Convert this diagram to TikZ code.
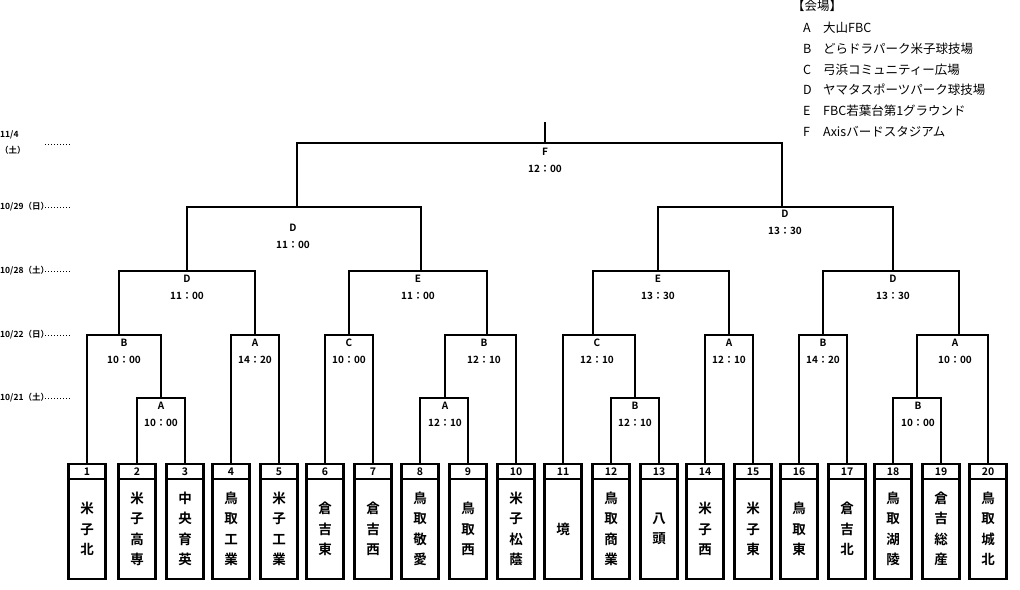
\documentclass[tikz,border=0pt]{standalone}
\usepackage{fontspec}
\setmainfont{Noto Sans CJK JP}[BoldFont={Noto Sans CJK JP Bold}]

\tikzset{
    bracket/.style={line width=2.4pt},
    numbox/.style={draw,line width=2.4pt,minimum width=37pt,minimum height=15pt,inner sep=0pt,font=\fontsize{10.5}{12}\selectfont\bfseries},
    namebox/.style={draw,line width=2.4pt,minimum width=37pt,minimum height=100pt,inner sep=0pt,align=center,font=\fontsize{13.5}{20.5}\selectfont\bfseries},
    matchlabel/.style={align=center,inner sep=0pt,font=\fontsize{10}{17}\selectfont\bfseries},
    datelabel/.style={anchor=west,inner sep=0pt,font=\fontsize{8.5}{9}\selectfont\bfseries},
    dateline/.style={dotted,line width=1pt},
    venue/.style={anchor=west,inner sep=0pt,font=\fontsize{12.5}{14}\selectfont},
}

\begin{document}
\begin{tikzpicture}[x=1pt,y=-1pt]
        \useasboundingbox (0,0) rectangle (1020,589);
        % teams
        \foreach \n/\x/\name in {1/87/{米\\子\\北}, 2/137/{米\\子\\高\\専}, 3/185/{中\\央\\育\\英},
            4/231/{鳥\\取\\工\\業}, 5/279/{米\\子\\工\\業}, 6/325/{倉\\吉\\東}, 7/373/{倉\\吉\\西},
            8/420/{鳥\\取\\敬\\愛}, 9/468/{鳥\\取\\西}, 10/516/{米\\子\\松\\蔭}, 11/563/{境},
            12/611/{鳥\\取\\商\\業}, 13/659/{八\\頭}, 14/705/{米\\子\\西}, 15/753/{米\\子\\東},
            16/799/{鳥\\取\\東}, 17/847/{倉\\吉\\北}, 18/893/{鳥\\取\\湖\\陵}, 19/941/{倉\\吉\\総\\産},
            20/988/{鳥\\取\\城\\北}}{
            \node[numbox] (n\n) at (\x,471.5) {\n};
            \node[namebox] (t\n) at (\x,529) {\name};
        }
        % 10/21
        \coordinate (m1) at (161,398);
        \coordinate (m4) at (445,398);
        \coordinate (m7) at (635,398);
        \coordinate (m10) at (917,398);
        \draw[bracket] (n2.north) |- (m1) -| (n3.north);
        \draw[bracket] (n8.north) |- (m4) -| (n9.north);
        \draw[bracket] (n12.north) |- (m7) -| (n13.north);
        \draw[bracket] (n18.north) |- (m10) -| (n19.north);
        % 10/22
        \coordinate (m2) at (119,335);
        \coordinate (m3) at (255,335);
        \coordinate (m5) at (349,335);
        \coordinate (m6) at (487,335);
        \coordinate (m8) at (593,335);
        \coordinate (m9) at (729,335);
        \coordinate (m11) at (823,335);
        \coordinate (m12) at (959,335);
        \draw[bracket] (n1.north) |- (m2) -| (m1);
        \draw[bracket] (n4.north) |- (m3) -| (n5.north);
        \draw[bracket] (n6.north) |- (m5) -| (n7.north);
        \draw[bracket] (m4) |- (m6) -| (n10.north);
        \draw[bracket] (n11.north) |- (m8) -| (m7);
        \draw[bracket] (n14.north) |- (m9) -| (n15.north);
        \draw[bracket] (n16.north) |- (m11) -| (n17.north);
        \draw[bracket] (m10) |- (m12) -| (n20.north);
        % 10/28
        \coordinate (m13) at (187,271);
        \coordinate (m14) at (421,271);
        \coordinate (m15) at (658,271);
        \coordinate (m16) at (893,271);
        \draw[bracket] (m2) |- (m13) -| (m3);
        \draw[bracket] (m5) |- (m14) -| (m6);
        \draw[bracket] (m8) |- (m15) -| (m9);
        \draw[bracket] (m11) |- (m16) -| (m12);
        % 10/29
        \coordinate (m17) at (297,207);
        \coordinate (m18) at (782,207);
        \draw[bracket] (m13) |- (m17) -| (m14);
        \draw[bracket] (m15) |- (m18) -| (m16);
        % 11/4
        \coordinate (m19) at (545,143);
        \coordinate (top) at (545,122);
        \draw[bracket] (m17) |- (m19) -| (m18);
        \draw[bracket] (m19) -- (top);
        % venues and times
        \node[matchlabel] (l1) at (161,414.5) {A\\10：00};
        \node[matchlabel] (l4) at (445,414.5) {A\\12：10};
        \node[matchlabel] (l7) at (635,414.5) {B\\12：10};
        \node[matchlabel] (l10) at (918,414.5) {B\\10：00};
        \node[matchlabel] (l2) at (124,351.5) {B\\10：00};
        \node[matchlabel] (l3) at (255,351.5) {A\\14：20};
        \node[matchlabel] (l5) at (349,351.5) {C\\10：00};
        \node[matchlabel] (l6) at (484,351.5) {B\\12：10};
        \node[matchlabel] (l8) at (597,351.5) {C\\12：10};
        \node[matchlabel] (l9) at (729,351.5) {A\\12：10};
        \node[matchlabel] (l11) at (823,351.5) {B\\14：20};
        \node[matchlabel] (l12) at (955,351.5) {A\\10：00};
        \node[matchlabel] (l13) at (187,287.5) {D\\11：00};
        \node[matchlabel] (l14) at (418,287.5) {E\\11：00};
        \node[matchlabel] (l15) at (658,287.5) {E\\13：30};
        \node[matchlabel] (l16) at (893,287.5) {D\\13：30};
        \node[matchlabel] (l17) at (293,236.5) {D\\11：00};
        \node[matchlabel] (l18) at (785,222.5) {D\\13：30};
        \node[matchlabel] (l19) at (545,160) {F\\12：00};
        % dates
        \node[datelabel] (d5) at (0,135) {11/4};
        \node[datelabel] (d5w) at (0,150) {（土）};
        \draw[dateline] (45,144) -- (70,144);
        \foreach \d/\y/\w in {4/207/日, 3/271/土, 2/335/日, 1/398/土}{
            \node[datelabel] (d\d) at (0,\y) {10/\ifcase\d\or21\or22\or28\or29\fi（\w）};
            \draw[dateline] (45,\y) -- (70,\y);
        }
        % legend
        \node[venue] (vh) at (792,6) {【会場】};
        \foreach \k/\y/\v in {A/28/大山FBC, B/49/どらドラパーク米子球技場, C/70/弓浜コミュニティー広場,
            D/90/ヤマタスポーツパーク球技場, E/111/FBC若葉台第1グラウンド, F/132/Axisバードスタジアム}{
            \node[venue] (k\k) at (803,\y) {\k};
            \node[venue] (v\k) at (823,\y) {\v};
        }
    \end{tikzpicture}
\end{document}
